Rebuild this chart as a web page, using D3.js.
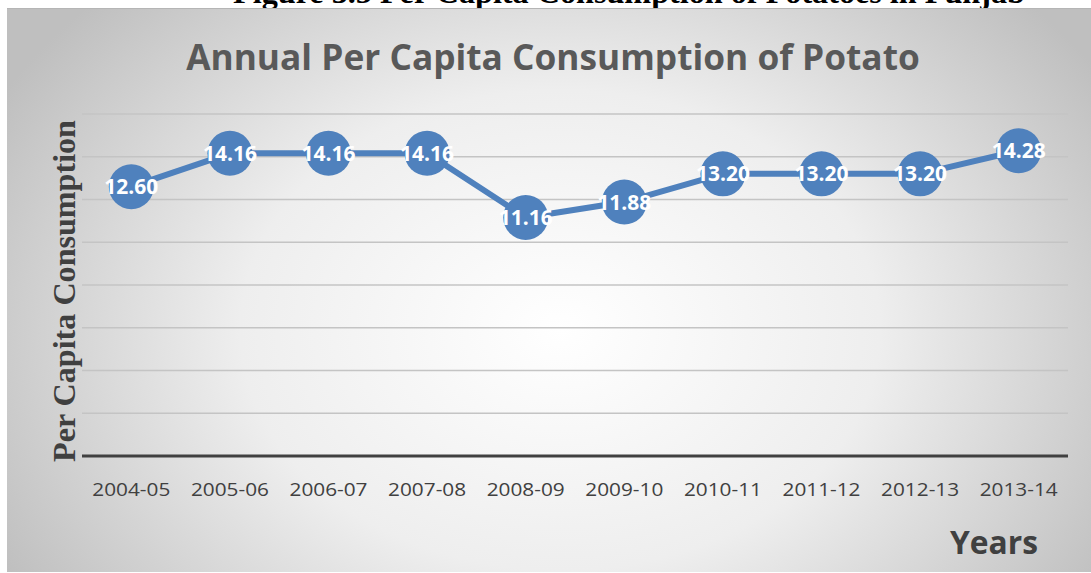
<!DOCTYPE html>
<html><head><meta charset="utf-8">
<script src="https://cdn.jsdelivr.net/npm/d3@7"></script>
<style>body{margin:0;background:#fff;} svg{display:block;}</style>
</head><body>
<svg id="c" width="1091" height="573"></svg>
<script>
const categories = ["2004-05","2005-06","2006-07","2007-08","2008-09","2009-10","2010-11","2011-12","2012-13","2013-14"];
const values = [12.60,14.16,14.16,14.16,11.16,11.88,13.20,13.20,13.20,14.28];
const yTicks = [0,2,4,6,8,10,12,14,16];
const chartTitle = "Annual Per Capita Consumption of Potato";
const caption = "Figure 3.5 Per Capita Consumption of Potatoes in Punjab";
const yTitle = "Per Capita Consumption";
const xTitle = "Years";

const svg = d3.select("#c");
const W = 1091, H = 573;
const defs = svg.append("defs");
const rg = defs.append("radialGradient").attr("id","bg")
  .attr("gradientUnits","userSpaceOnUse")
  .attr("cx",560).attr("cy",330).attr("r",640)
  .attr("gradientTransform","translate(560,330) scale(1,0.75) translate(-560,-330)");
rg.append("stop").attr("offset","0%").attr("stop-color","#ffffff");
rg.append("stop").attr("offset","50%").attr("stop-color","#eeeeee");
rg.append("stop").attr("offset","100%").attr("stop-color","#bfbfbf");

function fitText(sel, target){
  const n = sel.node();
  const w = n.getComputedTextLength();
  const fs = parseFloat(sel.attr("font-size"));
  sel.attr("font-size", fs*target/w);
}
// caption (partly hidden above the chart, as in the reference)
const cap = svg.append("text").text(caption)
  .attr("x",629).attr("y",3).attr("text-anchor","middle")
  .attr("font-family","Liberation Serif").attr("font-weight","bold")
  .attr("font-size",26).attr("fill","#000");
fitText(cap, 792);

// background box
svg.append("rect").attr("x",7).attr("y",8).attr("width",W-7).attr("height",H-8-1)
  .attr("fill","url(#bg)");
svg.append("line").attr("x1",7).attr("x2",W).attr("y1",8.5).attr("y2",8.5)
  .attr("stroke","#b5b5b5").attr("stroke-width",1);

const x = d3.scaleBand().domain(categories).range([82,1068]);
const y = d3.scaleLinear().domain([0,16]).range([456,114]);

// gridlines
svg.append("g").selectAll("line").data(yTicks.filter(d=>d>0)).join("line")
  .attr("x1",82).attr("x2",1068)
  .attr("y1",d=>y(d)).attr("y2",d=>y(d))
  .attr("stroke","#c4c4c4").attr("stroke-width",1.5);

// x axis
const xAxis = svg.append("g").attr("transform","translate(0,456)")
  .call(d3.axisBottom(x).tickSize(0).tickPadding(0));
xAxis.select(".domain").attr("stroke","#404040").attr("stroke-width",3)
  .attr("d","M82,0H1068");
xAxis.selectAll("text").attr("font-family","Open Sans").attr("font-size",19)
  .attr("fill","#404040").attr("dy",0).attr("y",40)
  .attr("textLength",78).attr("lengthAdjust","spacingAndGlyphs");

// line
svg.append("path").datum(values)
  .attr("d", d3.line().x((d,i)=>x(categories[i])+x.bandwidth()/2).y(d=>y(d)))
  .attr("fill","none").attr("stroke","#4f81bd").attr("stroke-width",6)
  .attr("stroke-linejoin","round");

// markers
svg.append("g").selectAll("circle").data(values).join("circle")
  .attr("cx",(d,i)=>x(categories[i])+x.bandwidth()/2).attr("cy",d=>y(d))
  .attr("r",22.5).attr("fill","#4f81bd");

// labels
svg.append("g").selectAll("text").data(values).join("text")
  .attr("x",(d,i)=>x(categories[i])+x.bandwidth()/2).attr("y",d=>y(d))
  .attr("dy","0.36em").attr("text-anchor","middle")
  .attr("font-family","Open Sans").attr("font-weight","bold").attr("font-size",21)
  .attr("fill","#fff").text(d=>d.toFixed(2));

// title
const t = svg.append("text").text(chartTitle)
  .attr("x",553).attr("y",70).attr("text-anchor","middle")
  .attr("font-family","Open Sans").attr("font-weight","bold").attr("font-size",32)
  .attr("fill","#595959");
fitText(t, 734);

// y title
const yt = svg.append("text").text(yTitle)
  .attr("transform","translate(75,291) rotate(-90)").attr("text-anchor","middle")
  .attr("font-family","Liberation Serif").attr("font-weight","bold").attr("font-size",28)
  .attr("fill","#404040");
fitText(yt, 342);

// x title
const xt = svg.append("text").text(xTitle)
  .attr("x",994).attr("y",554).attr("text-anchor","middle")
  .attr("font-family","Open Sans").attr("font-weight","bold").attr("font-size",30)
  .attr("fill","#404040");
fitText(xt, 88);
</script>
</body></html>
